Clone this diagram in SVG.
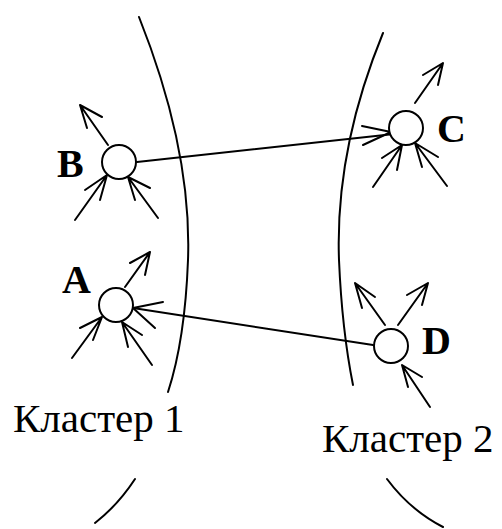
<svg xmlns="http://www.w3.org/2000/svg" width="502" height="529" viewBox="0 0 502 529">
<style>
.s{fill:none;stroke:#000;stroke-width:2;stroke-linecap:round}
.c{fill:#fff;stroke:#000;stroke-width:2}
.lbl{font-family:"Liberation Serif",serif;font-weight:bold;font-size:40px;fill:#000}
.cl{font-family:"Liberation Serif",serif;font-size:41px;fill:#000}
</style>
<rect width="502" height="529" fill="#fff"/>
<g id="cluster1">
<path class="s" d="M139,17 Q192,150 188,260 Q185,340 168,392"/>
<path class="s" d="M135,479 Q118,505 95,523"/>
<text class="cl" x="13" y="432">Кластер 1</text>
</g>
<g id="cluster2">
<path class="s" d="M383,33 Q335,150 339,260 Q342,330 353,385"/>
<path class="s" d="M387,479 Q410,510 443,527"/>
<text class="cl" x="322" y="452">Кластер 2</text>
</g>
<g id="connectors">
<line class="s" x1="137" y1="162" x2="394" y2="134"/>
<line class="s" x1="133" y1="308" x2="373" y2="345"/>
</g>
<g id="nodeB">
<path class="s" d="M108,145 L80,105 M80,105 L102,117 M80,105 L87,128"/>
<path class="s" d="M75,220 L107,175 M107,175 L85,190 M107,175 L100,200"/>
<path class="s" d="M158,218 L128,177 M128,177 L150,188 M128,177 L135,200"/>
<circle class="c" cx="119" cy="162" r="17"/>
<text class="lbl" x="57" y="177">B</text>
</g>
<g id="nodeA">
<path class="s" d="M125,287 L150,252 M150,252 L130,263 M150,252 L145,275"/>
<path class="s" d="M133,308 L163,302 M133,308 L155,328"/>
<path class="s" d="M72,358 L102,317 M102,317 L80,328 M102,317 L93,340"/>
<path class="s" d="M152,365 L122,322 M122,322 L142,335 M122,322 L128,347"/>
<circle class="c" cx="116" cy="305" r="17"/>
<text class="lbl" x="62" y="293">A</text>
</g>
<g id="nodeC">
<path class="s" d="M415,103 L443,63 M443,63 L423,75 M443,63 L438,85"/>
<path class="s" d="M391,132 L362,126 M391,132 L363,145"/>
<path class="s" d="M373,187 L402,145 M402,145 L382,158 M402,145 L397,170"/>
<path class="s" d="M447,186 L415,143 M415,143 L438,157 M415,143 L422,167"/>
<circle class="c" cx="406" cy="128" r="17"/>
<text class="lbl" x="437" y="142">C</text>
</g>
<g id="nodeD">
<path class="s" d="M385,325 L355,283 M355,283 L375,297 M355,283 L362,308"/>
<path class="s" d="M398,325 L428,283 M428,283 L407,295 M428,283 L422,305"/>
<path class="s" d="M430,407 L402,365 M402,365 L422,377 M402,365 L408,387"/>
<circle class="c" cx="391" cy="346" r="17"/>
<text class="lbl" x="422" y="354">D</text>
</g>
</svg>
